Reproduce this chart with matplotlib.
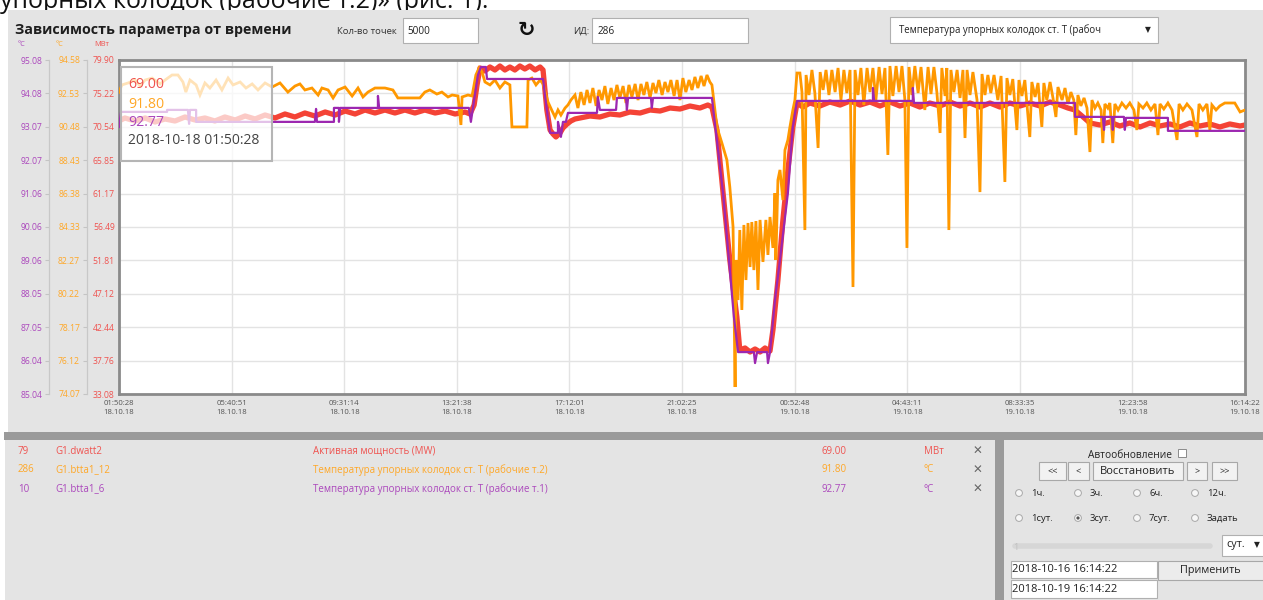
import numpy as np
import matplotlib
matplotlib.use("Agg")
import matplotlib.pyplot as plt
import matplotlib.transforms as mtransforms
from matplotlib.patches import Rectangle, Circle
from matplotlib.lines import Line2D

plt.rcParams['font.family'] = ['Open Sans', 'DejaVu Sans']

# ---------------- data ----------------
SPAN_HOURS = 38.3983  # 18.10.18 01:50:28 -> 19.10.18 16:14:22
xtick_times = ["01:50:28", "05:40:51", "09:31:14", "13:21:38", "17:12:01", "21:02:25",
               "00:52:48", "04:43:11", "08:33:35", "12:23:58", "16:14:22"]
xtick_dates = ["18.10.18"] * 6 + ["19.10.18"] * 5

purple_ticks = ["85.04", "86.04", "87.05", "88.05", "89.06", "90.06", "91.06", "92.07", "93.07", "94.08", "95.08"]
orange_ticks = ["74.07", "76.12", "78.17", "80.22", "82.27", "84.33", "86.38", "88.43", "90.48", "92.53", "94.58"]
red_ticks = ["33.08", "37.76", "42.44", "47.12", "51.81", "56.49", "61.17", "65.85", "70.54", "75.22", "79.90"]

# Active power, MW  (hours since 18.10.18 01:50:28, value)
red_points = [
    (0.00, 71.35), (0.20, 71.77), (0.55, 71.35), (0.89, 71.77), (1.23, 71.21), (1.57, 71.63), (1.91, 71.35),
    (2.25, 71.91), (2.59, 71.49), (2.93, 71.77), (3.27, 71.35), (3.61, 71.91), (3.96, 71.49), (4.30, 72.05),
    (4.64, 71.63), (4.98, 72.19), (5.32, 71.77), (5.66, 72.33), (6.00, 71.91), (6.34, 72.47), (6.68, 72.05),
    (7.03, 72.61), (7.37, 72.19), (7.71, 72.75), (8.05, 72.33), (8.39, 72.89), (8.73, 72.47), (9.07, 72.89),
    (9.41, 72.47), (9.75, 72.89), (10.09, 72.47), (10.43, 72.89), (10.78, 72.47), (11.12, 72.75), (11.46, 72.33),
    (11.80, 72.61), (11.97, 72.33), (12.11, 73.59), (12.21, 76.40), (12.31, 78.78), (12.48, 78.36), (12.65, 78.92),
    (12.82, 78.50), (12.99, 79.06), (13.16, 78.50), (13.33, 78.92), (13.50, 78.50), (13.67, 79.06), (13.84, 78.64),
    (14.01, 79.06), (14.19, 78.50), (14.36, 78.92), (14.46, 78.50), (14.59, 72.89), (14.70, 70.09), (14.80, 69.53),
    (14.90, 69.11), (15.04, 69.67), (15.14, 70.37), (15.28, 70.93), (15.41, 71.35), (15.55, 71.63), (15.72, 71.77),
    (16.06, 72.05), (16.40, 71.91), (16.74, 72.33), (17.08, 72.19), (17.42, 72.61), (17.77, 72.47), (18.11, 72.89),
    (18.45, 72.75), (18.79, 73.17), (19.13, 73.03), (19.47, 73.45), (19.81, 73.17), (20.08, 73.59), (20.22, 73.31),
    (20.39, 70.09), (20.60, 61.26), (20.83, 51.86), (21.07, 43.87), (21.17, 39.25), (21.35, 39.53), (21.52, 38.97),
    (21.69, 39.39), (21.86, 38.97), (22.03, 39.53), (22.20, 39.11), (22.30, 42.05), (22.47, 49.06), (22.64, 57.47),
    (22.81, 64.48), (22.98, 70.51), (23.12, 73.87), (23.32, 73.31), (23.56, 73.87), (23.90, 73.45), (24.24, 74.01),
    (24.59, 73.59), (24.93, 74.15), (25.27, 73.59), (25.61, 74.01), (25.95, 73.45), (26.29, 74.01), (26.63, 73.45),
    (26.97, 73.87), (27.31, 73.31), (27.65, 73.87), (27.99, 73.45), (28.34, 74.01), (28.68, 73.45), (29.02, 73.87),
    (29.36, 73.31), (29.70, 73.87), (30.04, 73.31), (30.38, 73.87), (30.72, 73.45), (31.06, 73.87), (31.41, 73.45),
    (31.75, 74.01), (32.09, 73.59), (32.36, 73.17), (32.60, 72.89), (32.84, 72.05), (33.11, 71.07), (33.45, 70.79),
    (33.79, 71.21), (34.13, 70.65), (34.47, 71.07), (34.82, 70.51), (35.16, 71.07), (35.50, 70.65), (35.84, 70.93),
    (36.18, 70.51), (36.52, 71.07), (36.86, 70.65), (37.20, 70.93), (37.54, 70.51), (37.88, 70.93), (38.23, 70.65),
    (38.40, 70.79),
]

# Thrust pad temperature, point 2, degC
orange_points = [
    (0.00, 92.61), (0.10, 93.05), (0.31, 93.17), (0.55, 93.35), (0.72, 92.98), (0.89, 93.35), (1.13, 93.47),
    (1.40, 93.11), (1.57, 93.35), (1.81, 93.66), (2.01, 93.66), (2.18, 93.23), (2.28, 92.61), (2.42, 93.35),
    (2.63, 93.05), (2.76, 92.43), (2.93, 93.17), (3.10, 92.86), (3.31, 93.35), (3.51, 92.74), (3.72, 93.47),
    (3.89, 93.05), (4.13, 93.23), (4.33, 92.86), (4.54, 93.11), (4.74, 92.74), (4.98, 93.17), (5.22, 92.92),
    (5.49, 93.17), (5.76, 92.61), (6.00, 92.98), (6.17, 93.11), (6.34, 92.74), (6.58, 92.86), (6.79, 92.43),
    (6.92, 92.86), (7.13, 92.74), (7.30, 92.25), (7.47, 92.74), (7.71, 92.92), (7.95, 92.37), (8.15, 92.86),
    (8.32, 92.31), (8.49, 92.61), (8.73, 92.86), (9.07, 92.86), (9.34, 92.74), (9.51, 92.25), (9.92, 92.25),
    (10.26, 92.25), (10.43, 92.61), (10.60, 92.74), (10.84, 92.49), (11.01, 92.61), (11.22, 92.31), (11.36, 92.43),
    (11.56, 92.37), (11.66, 90.59), (11.70, 92.31), (11.90, 92.43), (12.04, 92.37),
    (12.17, 93.66), (12.28, 94.09), (12.38, 93.84), (12.48, 93.23), (12.65, 93.05), (12.82, 93.35), (12.99, 92.86),
    (13.16, 93.23), (13.33, 93.05), (13.40, 90.47), (13.91, 90.47), (13.95, 93.35), (14.08, 93.47), (14.22, 93.05),
    (14.36, 93.35), (14.46, 93.11),
    (14.63, 92.00), (14.77, 91.45), (14.87, 91.08), (14.97, 91.51), (15.07, 91.20), (15.21, 91.63), (15.31, 91.82),
    (15.41, 92.12),
    (15.55, 92.43), (15.65, 91.63), (15.75, 92.61), (15.86, 91.82), (15.96, 92.74), (16.06, 91.94), (16.16, 92.86),
    (16.27, 91.76), (16.37, 92.74), (16.47, 92.12), (16.57, 92.98), (16.67, 91.88), (16.78, 92.86), (16.88, 92.12),
    (16.98, 93.05), (17.08, 92.25), (17.19, 92.98), (17.29, 91.94), (17.39, 93.05), (17.49, 92.31), (17.60, 93.11),
    (17.70, 92.12), (17.80, 93.11), (17.90, 92.43), (18.00, 93.23), (18.11, 92.25), (18.21, 93.17), (18.31, 92.55),
    (18.41, 93.35), (18.52, 92.43), (18.62, 93.23), (18.72, 92.61), (18.82, 93.35), (18.93, 92.37), (19.03, 93.35),
    (19.13, 92.12), (19.23, 93.47), (19.33, 92.61), (19.44, 93.35), (19.54, 92.74), (19.64, 93.54), (19.74, 92.86),
    (19.85, 93.60), (19.95, 92.98), (20.05, 93.66), (20.15, 93.23), (20.22, 93.05),
    (20.39, 90.47), (20.56, 89.48), (20.73, 88.44), (20.83, 86.78), (20.94, 84.33), (21.01, 74.50), (21.04, 82.30),
    (21.11, 79.84), (21.17, 84.14), (21.24, 79.23), (21.31, 84.45), (21.38, 81.07), (21.45, 84.57), (21.52, 81.87),
    (21.58, 84.63), (21.65, 81.68), (21.72, 84.69), (21.79, 80.46), (21.86, 84.76), (21.96, 82.18), (22.06, 84.76),
    (22.13, 82.61), (22.20, 84.94), (22.30, 83.04), (22.37, 86.41), (22.40, 82.30), (22.47, 87.21), (22.54, 87.83),
    (22.64, 85.98), (22.71, 89.05), (22.81, 89.67), (22.88, 90.47), (22.98, 91.51), (23.05, 92.12), (23.12, 93.78),
    (23.22, 93.78), (23.29, 92.61), (23.39, 84.14), (23.43, 93.66), (23.53, 92.43), (23.63, 93.97), (23.73, 92.55),
    (23.84, 89.18), (23.91, 93.84), (24.01, 92.74), (24.11, 93.97), (24.21, 92.43), (24.31, 93.97), (24.42, 92.61),
    (24.52, 94.09), (24.62, 92.12), (24.72, 93.97), (24.82, 92.55), (24.93, 93.97), (25.03, 80.64), (25.10, 93.97),
    (25.20, 92.43), (25.30, 94.09), (25.40, 91.82), (25.51, 94.09), (25.61, 92.61), (25.71, 94.09), (25.81, 92.12),
    (25.92, 94.15), (26.02, 92.49), (26.12, 94.09), (26.22, 88.75), (26.29, 94.21), (26.39, 92.37), (26.50, 94.21),
    (26.60, 92.61), (26.70, 94.21), (26.80, 92.12), (26.87, 83.04), (26.94, 94.15), (27.04, 92.43), (27.14, 94.21),
    (27.25, 92.55), (27.35, 94.15), (27.48, 91.51), (27.59, 94.15), (27.69, 92.49), (27.79, 94.15), (27.89, 92.61),
    (28.00, 90.10), (28.06, 94.09), (28.17, 92.37), (28.23, 94.09), (28.30, 84.14), (28.37, 93.97), (28.47, 92.61),
    (28.58, 93.97), (28.68, 92.25), (28.78, 93.97), (28.85, 89.79), (28.92, 93.97), (29.02, 92.43), (29.12, 93.84),
    (29.26, 92.12), (29.36, 86.47), (29.43, 93.72), (29.53, 92.43), (29.63, 93.66), (29.73, 92.55), (29.84, 93.66),
    (29.97, 92.12), (30.08, 93.60), (30.21, 87.09), (30.28, 93.47), (30.38, 92.43), (30.48, 93.41), (30.62, 90.28),
    (30.69, 93.35), (30.79, 92.37), (30.89, 93.35), (31.06, 89.85), (31.13, 93.23), (31.24, 92.31), (31.34, 93.17),
    (31.47, 90.47), (31.54, 93.17), (31.64, 92.12), (31.75, 93.23), (31.85, 92.25), (31.95, 91.08), (32.02, 92.92),
    (32.16, 92.12), (32.26, 92.86), (32.36, 91.88), (32.46, 92.61), (32.56, 92.12), (32.63, 89.97), (32.70, 92.43),
    (32.80, 91.76), (32.91, 92.25), (33.01, 91.63), (33.11, 88.93), (33.18, 92.12),
    (33.28, 91.63), (33.38, 91.94), (33.49, 91.51), (33.55, 89.48), (33.62, 91.88), (33.72, 91.63), (33.79, 91.94),
    (33.89, 89.48), (33.96, 91.88), (34.07, 91.51), (34.20, 91.94), (34.34, 91.63), (34.47, 91.94), (34.61, 91.51),
    (34.71, 90.28), (34.78, 91.88), (34.92, 91.63), (35.05, 91.94), (35.19, 91.51), (35.33, 91.88), (35.43, 89.97),
    (35.50, 91.88), (35.63, 91.57), (35.77, 91.94), (35.91, 91.51), (36.08, 89.67), (36.15, 91.88), (36.28, 91.51),
    (36.42, 91.88), (36.59, 91.51), (36.76, 89.85), (36.83, 91.88), (36.96, 91.51), (37.10, 91.88), (37.20, 90.28),
    (37.27, 91.82), (37.41, 91.51), (37.54, 91.76), (37.71, 91.94), (38.05, 91.94), (38.23, 91.39), (38.40, 91.51),
]

# Thrust pad temperature, point 1, degC
purple_points = [
    (0.00, 93.07), (0.07, 93.52), (1.64, 93.52), (1.64, 93.58), (2.35, 93.58), (2.39, 93.16), (2.42, 93.58),
    (2.63, 93.58), (2.63, 93.22), (6.68, 93.22), (6.72, 93.61), (6.75, 93.22), (7.33, 93.22), (7.33, 93.64),
    (7.50, 93.64), (7.50, 93.22), (7.54, 93.64), (8.83, 93.64), (8.83, 94.00), (8.87, 93.64), (11.93, 93.64),
    (12.00, 93.22), (12.11, 93.88), (12.24, 94.63), (12.34, 94.87), (12.51, 94.87), (12.55, 94.51), (14.46, 94.51),
    (14.59, 93.58), (14.70, 92.89), (14.97, 92.89), (14.97, 93.22), (15.07, 92.77), (15.14, 93.22), (15.24, 93.22),
    (15.31, 93.49), (16.30, 93.49), (16.33, 93.97), (16.40, 93.58), (16.95, 93.58), (16.98, 93.94), (17.29, 93.94),
    (17.32, 93.58), (17.36, 93.94), (18.14, 93.94), (18.17, 93.64), (18.21, 93.94), (20.22, 93.94), (20.60, 91.08),
    (20.97, 87.35), (21.11, 86.30), (21.65, 86.30), (21.69, 85.97), (21.76, 86.30), (22.10, 86.30), (22.13, 85.97),
    (22.20, 86.30), (22.37, 87.87), (22.54, 89.07), (22.81, 91.08), (22.98, 93.07), (23.12, 93.85), (25.71, 93.85),
    (25.71, 94.24), (25.75, 93.85), (27.07, 93.85), (27.07, 94.24), (27.11, 93.79), (32.60, 93.79), (32.60, 93.37),
    (33.55, 93.37), (33.59, 92.98), (33.62, 93.37), (33.86, 93.37), (33.89, 92.98), (33.92, 93.37), (34.27, 93.37),
    (34.30, 92.98), (34.34, 93.34), (35.77, 93.34), (35.77, 92.95), (38.40, 92.95),
]

row_ids = ["79", "286", "10"]
row_tags = ["G1.dwatt2", "G1.btta1_12", "G1.btta1_6"]
row_names = ["Активная мощность (MW)",
             "Температура упорных колодок ст. Т (рабочие т.2)",
             "Температура упорных колодок ст. Т (рабочие т.1)"]
row_values = ["69.00", "91.80", "92.77"]
row_units = ["МВт", "°C", "°C"]
tooltip_time = "2018-10-18 01:50:28"
range_start = "2018-10-16 16:14:22"
range_end = "2018-10-19 16:14:22"
period_row1 = ["1ч.", "3ч.", "6ч.", "12ч."]
period_row2 = ["1сут.", "3сут.", "7сут.", "Задать"]

RED, ORANGE, PURPLE = "#f44336", "#ff9800", "#9c27b0"
RED_T, ORANGE_T, PURPLE_T = "#ef5350", "#ffa726", "#ab47bc"
PANEL = "#e4e4e4"
DARK = "#9a9a9a"

# ---------------- figure & pixel helpers ----------------
W, H = 1263, 600
fig = plt.figure(figsize=(W / 100, H / 100), dpi=100)
fig.patch.set_facecolor("white")
T = mtransforms.Affine2D().scale(1 / W, -1 / H).translate(0, 1) + fig.transFigure


def rect(x0, y0, x1, y1, fc, ec="none", lw=0.0, z=-1, alpha=1.0):
    r = Rectangle((x0, y0), x1 - x0, y1 - y0, transform=T, facecolor=fc,
                  edgecolor=ec, linewidth=lw, zorder=z, alpha=alpha)
    fig.add_artist(r)
    return r


def txt(x, y, s, size=7.0, color="#222222", ha="left", va="center", weight="normal", z=7, **kw):
    return fig.text(x, y, s, transform=T, fontsize=size, color=color, ha=ha, va=va,
                    fontweight=weight, zorder=z, **kw)


# page text cut at top (as in the screenshot)
txt(0, 8, "упорных колодок (рабочие т.2)» (рис. 1).", size=18, color="#111111", va="baseline", z=-2)

# panels
rect(8, 10, W, 432, PANEL)
rect(4, 432, W, 440, DARK)
rect(5, 440, 995, H, PANEL)
rect(995, 432, 1004, H, DARK)
rect(1004, 440, W, H, PANEL)

# header
txt(15, 30, "Зависимость параметра от времени", size=10.3, weight="bold", color="#1e1e1e")
txt(337, 31, "Кол-во точек", size=6.8, color="#333333")
rect(403, 18, 478, 43, "white", "#b0b0b0", 0.8, z=2)
txt(407, 31, "5000", size=7.2, color="#222222")
txt(526, 30, "↻", size=15, weight="bold", ha="center", color="#111111", family="DejaVu Sans")
txt(573, 31, "ИД:", size=6.8, color="#333333")
rect(592, 18, 748, 43, "white", "#b0b0b0", 0.8, z=2)
txt(598, 31, "286", size=7.2, color="#222222")
rect(890, 17, 1158, 43, "white", "#b0b0b0", 0.8, z=2)
txt(899, 30, "Температура упорных колодок ст. Т (рабоч", size=6.9, color="#222222")
txt(1148, 30, "▼", size=5.5, ha="center", color="#222222", family="DejaVu Sans")

# units above the y axes
txt(21, 45, "°C", size=5.3, color=PURPLE_T, ha="center")
txt(59, 45, "°C", size=5.3, color=ORANGE_T, ha="center")
txt(102, 45, "МВт", size=5.3, color=RED_T, ha="center")

# ---------------- chart ----------------
L, R, TOP, BOT = 119, 1245, 60, 394
ax = fig.add_axes([L / W, 1 - BOT / H, (R - L) / W, (BOT - TOP) / H])
ax.set_facecolor("white")
ax_o = ax.twinx()
ax_p = ax.twinx()

ax.set_xlim(0, SPAN_HOURS)
ax.set_xticks(np.linspace(0, SPAN_HOURS, len(xtick_times)))
ax.set_xticklabels([f"{t}\n{d}" for t, d in zip(xtick_times, xtick_dates)],
                   fontsize=5.6, color="#555555", linespacing=1.55)
ax.tick_params(axis="x", length=0, pad=4)

for a, labels, col in ((ax, red_ticks, RED_T), (ax_o, orange_ticks, ORANGE_T), (ax_p, purple_ticks, PURPLE_T)):
    lo, hi = float(labels[0]), float(labels[-1])
    a.set_ylim(lo, hi)
    a.set_yticks(np.linspace(lo, hi, len(labels)))
    a.set_yticklabels(labels)
    a.yaxis.set_ticks_position("left")
    a.tick_params(axis="y", which="both", left=True, labelleft=True, right=False, labelright=False,
                  labelcolor=col, labelsize=6.2)

ax.tick_params(axis="y", length=0, pad=3)
for a, xpix in ((ax_o, 87), (ax_p, 49)):
    for s in ("right", "top", "bottom"):
        a.spines[s].set_visible(False)
    a.spines["left"].set_visible(True)
    a.spines["left"].set_position(("axes", (xpix - L) / (R - L)))
    a.spines["left"].set_color("#c8c8c8")
    a.spines["left"].set_linewidth(0.9)
    a.tick_params(axis="y", length=3, width=0.8, color="#c4c4c4", pad=2)

for s in ax.spines.values():
    s.set_color("#8a8a8a")
    s.set_linewidth(2.0)

ax.grid(True, color="#e3e3e3", linewidth=1.0)
ax.set_axisbelow(True)

rt, rv = zip(*red_points)
ot, ov = zip(*orange_points)
pt, pv = zip(*purple_points)
ax.plot(rt, rv, color=RED, linewidth=3.8)
ax_o.plot(ot, ov, color=ORANGE, linewidth=2.0, solid_joinstyle="miter")
ax_p.plot(pt, pv, color=PURPLE, linewidth=1.6)

# tooltip
rect(121, 67, 272, 161, "white", "none", 0, z=5, alpha=0.72)
rect(121, 67, 272, 161, "none", "#b5b5b5", 1.5, z=5)
txt(128, 85, row_values[0], size=10.2, color=RED_T)
txt(128, 104, row_values[1], size=10.2, color=ORANGE_T)
txt(128, 122, row_values[2], size=10.2, color=PURPLE_T)
txt(128, 141, tooltip_time, size=10.0, color="#444444")

# ---------------- bottom list ----------------
row_colors = [RED_T, ORANGE_T, PURPLE_T]
for i in range(3):
    y = 451 + 19 * i
    c = row_colors[i]
    txt(18, y, row_ids[i], size=7.0, color=c)
    txt(55, y, row_tags[i], size=7.0, color=c)
    txt(313, y, row_names[i], size=7.0, color=c)
    txt(822, y, row_values[i], size=7.0, color=c)
    txt(924, y, row_units[i], size=7.0, color=c)
    txt(977, y, "✕", size=8.5, color="#666666", ha="center", family="DejaVu Sans")

# ---------------- right control panel ----------------
txt(1130, 455, "Автообновление", size=7.3, color="#222222", ha="center")
rect(1178, 449, 1186, 457, "white", "#8a8a8a", 0.7, z=2)
for x0, x1, lab in ((1039, 1066, "<<"), (1068, 1089, "<"), (1093, 1183, "Восстановить"),
                    (1187, 1207, ">"), (1212, 1237, ">>")):
    rect(x0, 462, x1, 480, "#f2f2f2", "#a8a8a8", 0.8, z=2)
    txt((x0 + x1) / 2, 471.5, lab, size=8.0 if len(lab) > 2 else 6.5, color="#222222", ha="center")

radio_x = [1019, 1078, 1137, 1195]
for row, (yy, labels) in enumerate(((493, period_row1), (518, period_row2))):
    for j, lab in enumerate(labels):
        fig.add_artist(Circle((radio_x[j], yy), 3.4, transform=T, facecolor="#f6f6f6",
                              edgecolor="#a8a8a8", linewidth=0.7, zorder=2))
        if row == 1 and j == 1:
            fig.add_artist(Circle((radio_x[j], yy), 1.6, transform=T, facecolor="#555555",
                                  edgecolor="none", zorder=3))
        txt(radio_x[j] + 12, yy + 0.5, lab, size=6.8, color="#222222")

fig.add_artist(Line2D([1015, 1210], [546, 546], transform=T, color="#d6d6d6", linewidth=4,
                      solid_capstyle="round", zorder=2))
txt(1016, 547, "1", size=6.5, color="#c0c0c0", ha="center")
rect(1222, 535, W + 2, 556, "white", "#b0b0b0", 0.8, z=2)
txt(1226, 545, "сут.", size=7.8, color="#222222")
txt(1257, 545, "▼", size=5.5, color="#222222", ha="center", family="DejaVu Sans")

rect(1011, 561, 1157, 578, "white", "#b0b0b0", 0.8, z=2)
rect(1011, 580, 1157, 598, "white", "#b0b0b0", 0.8, z=2)
txt(1012, 570, range_start, size=8.0, color="#222222")
txt(1012, 589, range_end, size=8.0, color="#222222")
rect(1158, 561, W + 2, 580, "#ececec", "#a8a8a8", 0.8, z=2)
txt(1210, 570.5, "Применить", size=7.8, color="#222222", ha="center")

fig.savefig("out.png", dpi=100, facecolor="white")
